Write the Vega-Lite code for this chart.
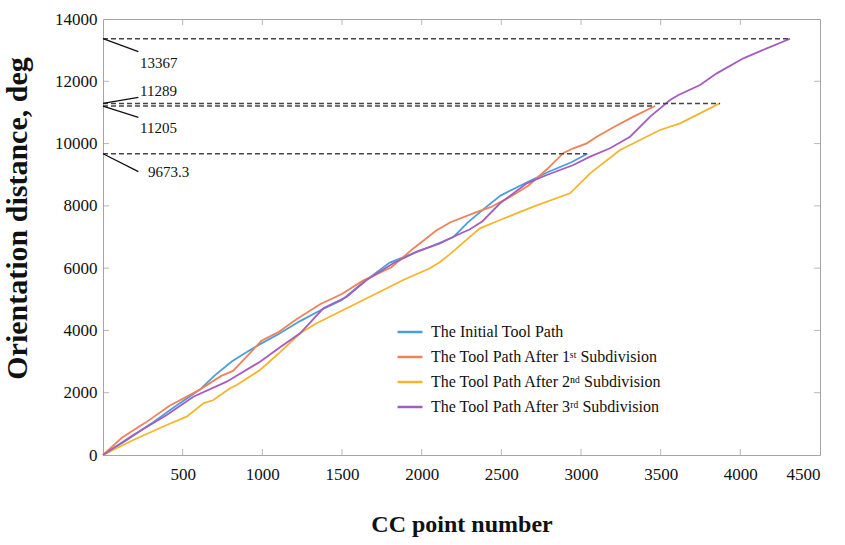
{
  "$schema": "https://vega.github.io/schema/vega-lite/v6.json",
  "width": 717,
  "height": 436,
  "autosize": {"type": "none"},
  "padding": {"left": 103, "top": 19, "right": 25, "bottom": 90},
  "background": "white",
  "config": {
    "view": {"stroke": "#a6a6a6", "strokeWidth": 1},
    "font": "Liberation Serif",
    "axis": {"grid": false, "domain": false, "ticks": false, "labelColor": "#111", "titleColor": "#111", "labelFont": "Liberation Serif", "titleFont": "Liberation Serif"}
  },
  "datasets": {
    "paths": [
      {"series": "The Initial Tool Path", "x": 0, "y": 0},
      {"series": "The Initial Tool Path", "x": 150, "y": 480},
      {"series": "The Initial Tool Path", "x": 300, "y": 1000},
      {"series": "The Initial Tool Path", "x": 450, "y": 1550},
      {"series": "The Initial Tool Path", "x": 608, "y": 2100},
      {"series": "The Initial Tool Path", "x": 700, "y": 2550},
      {"series": "The Initial Tool Path", "x": 808, "y": 3000},
      {"series": "The Initial Tool Path", "x": 900, "y": 3300},
      {"series": "The Initial Tool Path", "x": 1000, "y": 3600},
      {"series": "The Initial Tool Path", "x": 1100, "y": 3880},
      {"series": "The Initial Tool Path", "x": 1237, "y": 4300},
      {"series": "The Initial Tool Path", "x": 1365, "y": 4650},
      {"series": "The Initial Tool Path", "x": 1500, "y": 4980},
      {"series": "The Initial Tool Path", "x": 1632, "y": 5544},
      {"series": "The Initial Tool Path", "x": 1800, "y": 6180},
      {"series": "The Initial Tool Path", "x": 1900, "y": 6380},
      {"series": "The Initial Tool Path", "x": 2050, "y": 6680},
      {"series": "The Initial Tool Path", "x": 2200, "y": 7000},
      {"series": "The Initial Tool Path", "x": 2290, "y": 7470},
      {"series": "The Initial Tool Path", "x": 2404, "y": 7960},
      {"series": "The Initial Tool Path", "x": 2495, "y": 8330},
      {"series": "The Initial Tool Path", "x": 2640, "y": 8700},
      {"series": "The Initial Tool Path", "x": 2790, "y": 9080},
      {"series": "The Initial Tool Path", "x": 2940, "y": 9400},
      {"series": "The Initial Tool Path", "x": 3040, "y": 9673.3},

      {"series": "The Tool Path After 1ˢᵗ Subdivision", "x": 0, "y": 0},
      {"series": "The Tool Path After 1ˢᵗ Subdivision", "x": 120, "y": 560},
      {"series": "The Tool Path After 1ˢᵗ Subdivision", "x": 267, "y": 1040},
      {"series": "The Tool Path After 1ˢᵗ Subdivision", "x": 415, "y": 1576},
      {"series": "The Tool Path After 1ˢᵗ Subdivision", "x": 608, "y": 2100},
      {"series": "The Tool Path After 1ˢᵗ Subdivision", "x": 742, "y": 2540},
      {"series": "The Tool Path After 1ˢᵗ Subdivision", "x": 816, "y": 2700},
      {"series": "The Tool Path After 1ˢᵗ Subdivision", "x": 900, "y": 3150},
      {"series": "The Tool Path After 1ˢᵗ Subdivision", "x": 994, "y": 3667},
      {"series": "The Tool Path After 1ˢᵗ Subdivision", "x": 1098, "y": 3936},
      {"series": "The Tool Path After 1ˢᵗ Subdivision", "x": 1217, "y": 4365},
      {"series": "The Tool Path After 1ˢᵗ Subdivision", "x": 1365, "y": 4847},
      {"series": "The Tool Path After 1ˢᵗ Subdivision", "x": 1499, "y": 5169},
      {"series": "The Tool Path After 1ˢᵗ Subdivision", "x": 1632, "y": 5598},
      {"series": "The Tool Path After 1ˢᵗ Subdivision", "x": 1810, "y": 6027},
      {"series": "The Tool Path After 1ˢᵗ Subdivision", "x": 1944, "y": 6617},
      {"series": "The Tool Path After 1ˢᵗ Subdivision", "x": 2092, "y": 7206},
      {"series": "The Tool Path After 1ˢᵗ Subdivision", "x": 2181, "y": 7474},
      {"series": "The Tool Path After 1ˢᵗ Subdivision", "x": 2344, "y": 7796},
      {"series": "The Tool Path After 1ˢᵗ Subdivision", "x": 2433, "y": 7957},
      {"series": "The Tool Path After 1ˢᵗ Subdivision", "x": 2552, "y": 8279},
      {"series": "The Tool Path After 1ˢᵗ Subdivision", "x": 2671, "y": 8654},
      {"series": "The Tool Path After 1ˢᵗ Subdivision", "x": 2789, "y": 9190},
      {"series": "The Tool Path After 1ˢᵗ Subdivision", "x": 2890, "y": 9700},
      {"series": "The Tool Path After 1ˢᵗ Subdivision", "x": 2952, "y": 9848},
      {"series": "The Tool Path After 1ˢᵗ Subdivision", "x": 3036, "y": 10008},
      {"series": "The Tool Path After 1ˢᵗ Subdivision", "x": 3099, "y": 10222},
      {"series": "The Tool Path After 1ˢᵗ Subdivision", "x": 3204, "y": 10523},
      {"series": "The Tool Path After 1ˢᵗ Subdivision", "x": 3329, "y": 10864},
      {"series": "The Tool Path After 1ˢᵗ Subdivision", "x": 3465, "y": 11205},

      {"series": "The Tool Path After 2ⁿᵈ  Subdivision", "x": 0, "y": 0},
      {"series": "The Tool Path After 2ⁿᵈ  Subdivision", "x": 190, "y": 482},
      {"series": "The Tool Path After 2ⁿᵈ  Subdivision", "x": 400, "y": 963},
      {"series": "The Tool Path After 2ⁿᵈ  Subdivision", "x": 525, "y": 1230},
      {"series": "The Tool Path After 2ⁿᵈ  Subdivision", "x": 630, "y": 1660},
      {"series": "The Tool Path After 2ⁿᵈ  Subdivision", "x": 693, "y": 1766},
      {"series": "The Tool Path After 2ⁿᵈ  Subdivision", "x": 797, "y": 2142},
      {"series": "The Tool Path After 2ⁿᵈ  Subdivision", "x": 839, "y": 2248},
      {"series": "The Tool Path After 2ⁿᵈ  Subdivision", "x": 986, "y": 2729},
      {"series": "The Tool Path After 2ⁿᵈ  Subdivision", "x": 1100, "y": 3250},
      {"series": "The Tool Path After 2ⁿᵈ  Subdivision", "x": 1237, "y": 3908},
      {"series": "The Tool Path After 2ⁿᵈ  Subdivision", "x": 1341, "y": 4229},
      {"series": "The Tool Path After 2ⁿᵈ  Subdivision", "x": 1508, "y": 4656},
      {"series": "The Tool Path After 2ⁿᵈ  Subdivision", "x": 1634, "y": 4977},
      {"series": "The Tool Path After 2ⁿᵈ  Subdivision", "x": 1760, "y": 5298},
      {"series": "The Tool Path After 2ⁿᵈ  Subdivision", "x": 1885, "y": 5619},
      {"series": "The Tool Path After 2ⁿᵈ  Subdivision", "x": 2052, "y": 5995},
      {"series": "The Tool Path After 2ⁿᵈ  Subdivision", "x": 2115, "y": 6200},
      {"series": "The Tool Path After 2ⁿᵈ  Subdivision", "x": 2178, "y": 6450},
      {"series": "The Tool Path After 2ⁿᵈ  Subdivision", "x": 2304, "y": 7010},
      {"series": "The Tool Path After 2ⁿᵈ  Subdivision", "x": 2366, "y": 7279},
      {"series": "The Tool Path After 2ⁿᵈ  Subdivision", "x": 2492, "y": 7546},
      {"series": "The Tool Path After 2ⁿᵈ  Subdivision", "x": 2701, "y": 7973},
      {"series": "The Tool Path After 2ⁿᵈ  Subdivision", "x": 2931, "y": 8403},
      {"series": "The Tool Path After 2ⁿᵈ  Subdivision", "x": 3057, "y": 9045},
      {"series": "The Tool Path After 2ⁿᵈ  Subdivision", "x": 3245, "y": 9793},
      {"series": "The Tool Path After 2ⁿᵈ  Subdivision", "x": 3308, "y": 9954},
      {"series": "The Tool Path After 2ⁿᵈ  Subdivision", "x": 3496, "y": 10436},
      {"series": "The Tool Path After 2ⁿᵈ  Subdivision", "x": 3622, "y": 10650},
      {"series": "The Tool Path After 2ⁿᵈ  Subdivision", "x": 3870, "y": 11289},

      {"series": "The Tool Path After 3ʳᵈ  Subdivision", "x": 0, "y": 0},
      {"series": "The Tool Path After 3ʳᵈ  Subdivision", "x": 190, "y": 642},
      {"series": "The Tool Path After 3ʳᵈ  Subdivision", "x": 400, "y": 1284},
      {"series": "The Tool Path After 3ʳᵈ  Subdivision", "x": 567, "y": 1872},
      {"series": "The Tool Path After 3ʳᵈ  Subdivision", "x": 776, "y": 2354},
      {"series": "The Tool Path After 3ʳᵈ  Subdivision", "x": 986, "y": 2996},
      {"series": "The Tool Path After 3ʳᵈ  Subdivision", "x": 1100, "y": 3420},
      {"series": "The Tool Path After 3ʳᵈ  Subdivision", "x": 1237, "y": 3908},
      {"series": "The Tool Path After 3ʳᵈ  Subdivision", "x": 1383, "y": 4710},
      {"series": "The Tool Path After 3ʳᵈ  Subdivision", "x": 1530, "y": 5083},
      {"series": "The Tool Path After 3ʳᵈ  Subdivision", "x": 1655, "y": 5619},
      {"series": "The Tool Path After 3ʳᵈ  Subdivision", "x": 1822, "y": 6155},
      {"series": "The Tool Path After 3ʳᵈ  Subdivision", "x": 1969, "y": 6528},
      {"series": "The Tool Path After 3ʳᵈ  Subdivision", "x": 2115, "y": 6797},
      {"series": "The Tool Path After 3ʳᵈ  Subdivision", "x": 2199, "y": 7010},
      {"series": "The Tool Path After 3ʳᵈ  Subdivision", "x": 2303, "y": 7250},
      {"series": "The Tool Path After 3ʳᵈ  Subdivision", "x": 2380, "y": 7500},
      {"series": "The Tool Path After 3ʳᵈ  Subdivision", "x": 2492, "y": 8082},
      {"series": "The Tool Path After 3ʳᵈ  Subdivision", "x": 2660, "y": 8724},
      {"series": "The Tool Path After 3ʳᵈ  Subdivision", "x": 2785, "y": 8991},
      {"series": "The Tool Path After 3ʳᵈ  Subdivision", "x": 2952, "y": 9312},
      {"series": "The Tool Path After 3ʳᵈ  Subdivision", "x": 3057, "y": 9580},
      {"series": "The Tool Path After 3ʳᵈ  Subdivision", "x": 3182, "y": 9848},
      {"series": "The Tool Path After 3ʳᵈ  Subdivision", "x": 3308, "y": 10222},
      {"series": "The Tool Path After 3ʳᵈ  Subdivision", "x": 3434, "y": 10864},
      {"series": "The Tool Path After 3ʳᵈ  Subdivision", "x": 3559, "y": 11399},
      {"series": "The Tool Path After 3ʳᵈ  Subdivision", "x": 3612, "y": 11560},
      {"series": "The Tool Path After 3ʳᵈ  Subdivision", "x": 3747, "y": 11881},
      {"series": "The Tool Path After 3ʳᵈ  Subdivision", "x": 3852, "y": 12255},
      {"series": "The Tool Path After 3ʳᵈ  Subdivision", "x": 4019, "y": 12737},
      {"series": "The Tool Path After 3ʳᵈ  Subdivision", "x": 4166, "y": 13058},
      {"series": "The Tool Path After 3ʳᵈ  Subdivision", "x": 4312, "y": 13367}
    ],
    "refs": [
      {"label": "13367", "value": 13367, "x0": 0, "xend": 4312, "lx": 222, "ly": 12950, "tx": 232, "ty": 12603},
      {"label": "11289", "value": 11289, "x0": 0, "xend": 3873, "lx": 222, "ly": 11486, "tx": 232, "ty": 11688},
      {"label": "11205", "value": 11205, "x0": 0, "xend": 3452, "lx": 222, "ly": 10844, "tx": 232, "ty": 10500},
      {"label": "9673.3", "value": 9673.3, "x0": 0, "xend": 3036, "lx": 222, "ly": 9097, "tx": 282, "ty": 9103}
    ],
    "xticks": [
      {"v": 500, "lo": 0, "hi": 14000}, {"v": 1000, "lo": 0, "hi": 14000}, {"v": 1500, "lo": 0, "hi": 14000},
      {"v": 2000, "lo": 0, "hi": 14000}, {"v": 2500, "lo": 0, "hi": 14000}, {"v": 3000, "lo": 0, "hi": 14000},
      {"v": 3500, "lo": 0, "hi": 14000}, {"v": 4000, "lo": 0, "hi": 14000}
    ],
    "yticks": [
      {"v": 2000, "lo": 0, "hi": 4500}, {"v": 4000, "lo": 0, "hi": 4500}, {"v": 6000, "lo": 0, "hi": 4500},
      {"v": 8000, "lo": 0, "hi": 4500}, {"v": 10000, "lo": 0, "hi": 4500}, {"v": 12000, "lo": 0, "hi": 4500}
    ]
  },
  "layer": [
    {
      "data": {"name": "paths"},
      "mark": {"type": "line", "strokeWidth": 1.8},
      "encoding": {
        "x": {"field": "x", "type": "quantitative",
          "scale": {"domain": [0, 4500], "nice": false},
          "axis": {"orient": "bottom", "values": [0, 500, 1000, 1500, 2000, 2500, 3000, 3500, 4000, 4500], "format": "d", "labelExpr": "datum.value == 0 ? '' : datum.label", "labelPadding": 11, "labelFontSize": 17, "title": "CC point number", "titleFontSize": 24, "titleFontWeight": "bold", "titlePadding": 30}},
        "y": {"field": "y", "type": "quantitative",
          "scale": {"domain": [0, 14000], "nice": false},
          "axis": {"orient": "left", "values": [0, 2000, 4000, 6000, 8000, 10000, 12000, 14000], "format": "d", "labelPadding": 6, "labelFontSize": 17, "title": "Orientation distance, deg", "titleFontSize": 30, "titleFontWeight": "bold", "titlePadding": 22, "titleY": 199}},
        "color": {"field": "series", "type": "nominal",
          "scale": {"domain": ["The Initial Tool Path", "The Tool Path After 1ˢᵗ Subdivision", "The Tool Path After 2ⁿᵈ  Subdivision", "The Tool Path After 3ʳᵈ  Subdivision"], "range": ["#4a9edb", "#ef8259", "#f5b52c", "#a45cc0"]},
          "legend": {"title": null, "orient": "none", "legendX": 293, "legendY": 299, "padding": 0, "symbolType": "stroke", "symbolSize": 625, "symbolStrokeWidth": 2.5, "labelFont": "Liberation Serif", "labelFontSize": 16, "labelColor": "#111", "labelOffset": 7, "rowPadding": 3, "labelLimit": 400}},
        "order": {"field": "x", "type": "quantitative"}
      }
    },
    {
      "data": {"name": "xticks"},
      "mark": {"type": "tick", "orient": "vertical", "size": 12, "thickness": 1, "color": "#9a9a9a", "clip": true},
      "encoding": {
        "x": {"field": "v", "type": "quantitative"},
        "y": {"field": "lo", "type": "quantitative"}
      }
    },
    {
      "data": {"name": "xticks"},
      "mark": {"type": "tick", "orient": "vertical", "size": 12, "thickness": 1, "color": "#9a9a9a", "clip": true},
      "encoding": {
        "x": {"field": "v", "type": "quantitative"},
        "y": {"field": "hi", "type": "quantitative"}
      }
    },
    {
      "data": {"name": "yticks"},
      "mark": {"type": "tick", "orient": "horizontal", "size": 12, "thickness": 1, "color": "#9a9a9a", "clip": true},
      "encoding": {
        "y": {"field": "v", "type": "quantitative"},
        "x": {"field": "lo", "type": "quantitative"}
      }
    },
    {
      "data": {"name": "yticks"},
      "mark": {"type": "tick", "orient": "horizontal", "size": 12, "thickness": 1, "color": "#9a9a9a", "clip": true},
      "encoding": {
        "y": {"field": "v", "type": "quantitative"},
        "x": {"field": "hi", "type": "quantitative"}
      }
    },
    {
      "data": {"name": "refs"},
      "mark": {"type": "rule", "strokeDash": [5, 3], "strokeWidth": 1.5, "color": "#444"},
      "encoding": {
        "x": {"field": "x0", "type": "quantitative"},
        "x2": {"field": "xend"},
        "y": {"field": "value", "type": "quantitative"}
      }
    },
    {
      "data": {"name": "refs"},
      "mark": {"type": "rule", "strokeWidth": 1.3, "color": "#111"},
      "encoding": {
        "x": {"field": "x0", "type": "quantitative"},
        "x2": {"field": "lx"},
        "y": {"field": "value", "type": "quantitative"},
        "y2": {"field": "ly"}
      }
    },
    {
      "data": {"name": "refs"},
      "mark": {"type": "text", "align": "left", "baseline": "middle", "font": "Liberation Serif", "fontSize": 15, "color": "#111"},
      "encoding": {
        "x": {"field": "tx", "type": "quantitative"},
        "y": {"field": "ty", "type": "quantitative"},
        "text": {"field": "label"}
      }
    }
  ]
}
